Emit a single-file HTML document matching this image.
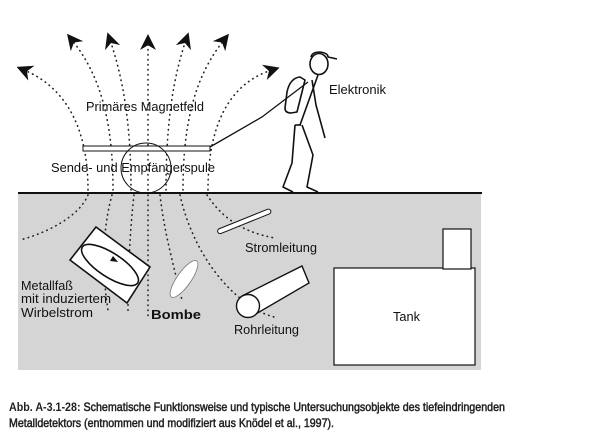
<!DOCTYPE html>
<html><head><meta charset="utf-8"><style>
html,body{margin:0;padding:0;background:#fff;}
svg{display:block;}
</style></head><body>
<svg width="608" height="437" viewBox="0 0 608 437" xmlns="http://www.w3.org/2000/svg">
<defs>
<marker id="ah" viewBox="0 0 10 10" refX="5" refY="5" markerWidth="10" markerHeight="10" orient="auto-start-reverse">
<path d="M0,0 L10,5 L0,10 L3,5 z" fill="#111"/></marker>
</defs>
<rect x="18" y="194" width="463" height="176" fill="#d5d5d5"/>
<line x1="18" y1="193" x2="482" y2="193" stroke="#111" stroke-width="2"/>
<g fill="none" stroke="#222" stroke-width="1.6" stroke-dasharray="0.5 4.5" stroke-linecap="round">
<path d="M148,190 L148,42" marker-end="url(#ah)"/>
<path d="M131,190 C131,120 122,75 110,40" marker-end="url(#ah)"/>
<path d="M166,190 C166,120 174,75 186,40" marker-end="url(#ah)"/>
<path d="M113,190 C113,120 100,75 72,40" marker-end="url(#ah)"/>
<path d="M183,190 C183,120 196,75 224,40" marker-end="url(#ah)"/>
<path d="M88,190 C88,120 60,85 24,70" marker-end="url(#ah)"/>
<path d="M208,190 C208,110 240,80 272,70" marker-end="url(#ah)"/>
<path d="M88,195 C80,215 50,232 20,240"/>
<path d="M112,195 C105,220 100,260 108,310"/>
<path d="M134,195 C130,230 128,270 128,312"/>
<path d="M148,195 L148,318"/>
<path d="M160,195 C164,230 172,260 182,300"/>
<path d="M180,195 C190,240 215,280 245,302 C255,310 265,315 278,318"/>
<path d="M207,195 C220,215 240,232 275,238"/>
</g>
<rect x="83" y="146" width="127" height="5" fill="#fff" stroke="#111" stroke-width="1"/>
<circle cx="146" cy="168" r="25" fill="none" stroke="#111" stroke-width="1"/>
<polyline points="210,147 262,117 308,82" fill="none" stroke="#111" stroke-width="1.3"/>
<g fill="none" stroke="#111" stroke-width="1.6" stroke-linejoin="round">
<ellipse cx="319" cy="64" rx="9" ry="10.5"/>
<path d="M311,57 Q312,52 320,52 Q328,53 328,57 L337,59"/>
<path d="M300,77 Q290,78 287,92 L285,108 Q285,113 291,113 L297,112 L305,80 Z"/>
<path d="M318,75 L300,125"/>
<path d="M312,80 L316,105 L325,138"/>
<path d="M295,125 L292,163 L283,187 L293,192"/>
<path d="M302,125 L313,155 L307,187 L318,192"/>
<path d="M301,125 L295,125"/>
</g>
<g transform="rotate(-22 244 222)">
<rect x="216" y="219" width="57" height="5" rx="2.5" fill="#fff" stroke="#111" stroke-width="1"/>
</g>
<polygon points="96,227 150,267 127,303 70,260" fill="#fff" stroke="#111" stroke-width="1.6"/>
<ellipse cx="110" cy="265" rx="33" ry="12" transform="rotate(33 110 265)" fill="none" stroke="#111" stroke-width="1.6"/>
<path d="M113,256 L118,262 L110,261 z" fill="#111"/>
<ellipse cx="184" cy="279" rx="7" ry="22" transform="rotate(35 184 279)" fill="#fff" stroke="#777" stroke-width="0.8"/>
<path d="M242,296 L302,266 L309,283 L254,315" fill="#fff" stroke="#111" stroke-width="1.4"/>
<circle cx="248" cy="306" r="11.5" fill="#fff" stroke="#111" stroke-width="1.4"/>
<rect x="334" y="268" width="141" height="97" fill="#fff" stroke="#111" stroke-width="1.2"/>
<rect x="443" y="229" width="28" height="40" fill="#fff" stroke="#111" stroke-width="1.2"/>
<g font-family="Liberation Sans, Arial, sans-serif" fill="#111" font-size="12.5">
<text x="86" y="111" textLength="118" lengthAdjust="spacingAndGlyphs">Primäres Magnetfeld</text>
<text x="51" y="172" textLength="164" lengthAdjust="spacingAndGlyphs">Sende- und Empfängerspule</text>
<text x="329" y="94" textLength="57" lengthAdjust="spacingAndGlyphs">Elektronik</text>
<text x="245" y="252" textLength="72" lengthAdjust="spacingAndGlyphs">Stromleitung</text>
<text x="21" y="290" textLength="52" lengthAdjust="spacingAndGlyphs">Metallfaß</text>
<text x="21" y="303" textLength="90" lengthAdjust="spacingAndGlyphs">mit induziertem</text>
<text x="21" y="317" textLength="72" lengthAdjust="spacingAndGlyphs">Wirbelstrom</text>
<text x="151" y="319" font-weight="bold" textLength="50" lengthAdjust="spacingAndGlyphs">Bombe</text>
<text x="234" y="334" textLength="65" lengthAdjust="spacingAndGlyphs">Rohrleitung</text>
<text x="393" y="321" textLength="27" lengthAdjust="spacingAndGlyphs">Tank</text>
</g>
<g font-family="Liberation Sans, Arial, sans-serif" fill="#222" font-size="12" font-weight="bold">
<text x="9" y="411" textLength="496" lengthAdjust="spacingAndGlyphs">Abb. A-3.1-28: <tspan font-weight="normal" style="stroke:#222;stroke-width:0.5">Schematische Funktionsweise und typische Untersuchungsobjekte des tiefeindringenden</tspan></text>
<text x="9" y="427" textLength="325" lengthAdjust="spacingAndGlyphs" font-weight="normal" style="stroke:#222;stroke-width:0.5">Metalldetektors (entnommen und modifiziert aus Knödel et al., 1997).</text>
</g>
</svg>
</body></html>
